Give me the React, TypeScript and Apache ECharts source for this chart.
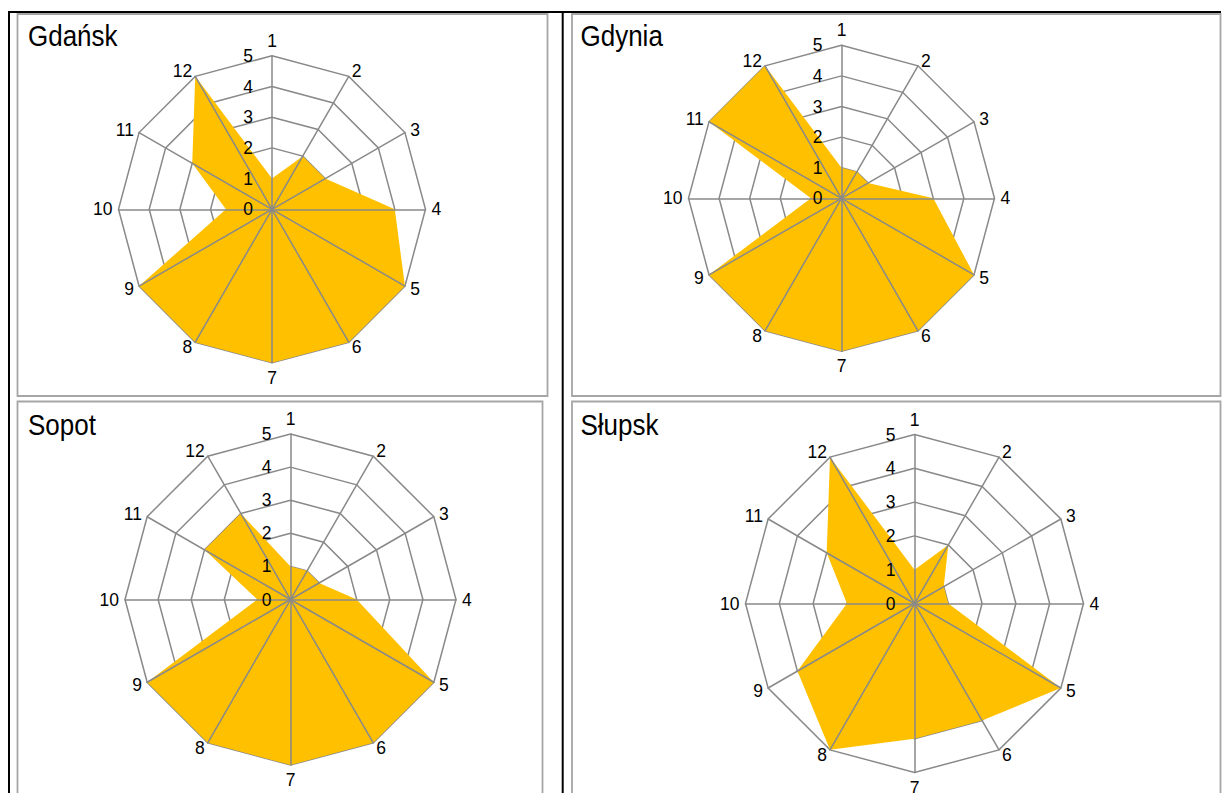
import React, { useEffect, useRef } from "react";
import * as echarts from "echarts";

// ---- data ----
const categories = ["1", "2", "3", "4", "5", "6", "7", "8", "9", "10", "11", "12"];
const valueMin = 0;
const valueMax = 5;
const valueStep = 1; // tick labels 0,1,2,3,4,5
const titles = ["Gdańsk", "Gdynia", "Sopot", "Słupsk"];
const gdansk = [1, 2, 2, 4, 5, 5, 5, 5, 5, 1.5, 3, 5];
const gdynia = [1, 1, 1, 3, 5, 5, 5, 5, 5, 1, 5, 5];
const sopot = [1, 1, 1, 2, 5, 5, 5, 5, 5, 1, 3, 3];
const slupsk = [1, 2, 1, 1, 5, 4, 4, 5, 4, 2, 3, 5];
const seriesValues = [gdansk, gdynia, sopot, slupsk];

// ---- layout / style ----
const FONT = "'Liberation Sans', Arial, sans-serif";
const GRID = "#898989";
const FILL = "#FFC000";
const BOX = "#a6a6a6";

const panels = [
  { center: [272, 209.3], radius: 153.5, tx: 28, ty: 36 },
  { center: [841.5, 198.3], radius: 153, tx: 580.5, ty: 36 },
  { center: [290.5, 599.5], radius: 165.5, tx: 28, ty: 424.5 },
  { center: [914.5, 603.5], radius: 169, tx: 580.5, ty: 425 },
];

// ECharts places radar indicators counter-clockwise; reorder so that 1..12 run clockwise
const order = [0, 11, 10, 9, 8, 7, 6, 5, 4, 3, 2, 1];

function buildOption() {
  const radar: any[] = [];
  const series: any[] = [];
  panels.forEach((p, i) => {
    const base = {
      center: p.center,
      radius: p.radius,
      startAngle: 90,
      shape: "polygon",
      splitNumber: (valueMax - valueMin) / valueStep,
    };
    radar.push({
      ...base,
      z: 1,
      indicator: order.map((k) => ({ name: categories[k], min: valueMin, max: valueMax })),
      axisName: { color: "#000", fontSize: 17.5, fontFamily: FONT },
      nameGap: 6,
      splitLine: { lineStyle: { color: GRID, width: 1.5 } },
      splitArea: { show: false },
      axisLine: { show: false },
      axisTick: { show: false },
      axisLabel: { show: false },
    });
    radar.push({
      ...base,
      z: 3,
      indicator: order.map((k, j) => ({
        name: categories[k],
        min: valueMin,
        max: valueMax,
        ...(j === 0 ? { axisLabel: { show: true } } : {}),
      })),
      axisName: { show: false },
      splitLine: { show: false },
      splitArea: { show: false },
      axisLine: { show: true, lineStyle: { color: GRID, width: 1.5 } },
      axisTick: { show: false },
      axisLabel: { show: false, margin: 19, color: "#000", fontSize: 17.5, fontFamily: FONT },
    });
    series.push({
      type: "radar",
      radarIndex: i * 2,
      z: 2,
      silent: true,
      symbol: "none",
      lineStyle: { width: 0, opacity: 0 },
      areaStyle: { color: FILL, opacity: 1 },
      data: [{ name: titles[i], value: order.map((k) => seriesValues[i][k]) }],
    });
  });

  const graphic: any[] = [
    // black outer lines
    { type: "line", shape: { x1: 9, y1: 12, x2: 9, y2: 800 }, style: { stroke: "#000", lineWidth: 2 } },
    { type: "line", shape: { x1: 8, y1: 12, x2: 1221, y2: 12 }, style: { stroke: "#000", lineWidth: 2 } },
    { type: "line", shape: { x1: 562.7, y1: 12, x2: 562.7, y2: 800 }, style: { stroke: "#000", lineWidth: 2 } },
    // gray panel boxes
    { type: "rect", shape: { x: 17.5, y: 14, width: 530, height: 382 }, style: { fill: "none", stroke: BOX, lineWidth: 1.8 } },
    { type: "rect", shape: { x: 572, y: 14, width: 648.5, height: 382 }, style: { fill: "none", stroke: BOX, lineWidth: 1.8 } },
    { type: "rect", shape: { x: 17.5, y: 401.5, width: 525, height: 500 }, style: { fill: "none", stroke: BOX, lineWidth: 1.8 } },
    { type: "rect", shape: { x: 572, y: 401.5, width: 648.5, height: 500 }, style: { fill: "none", stroke: BOX, lineWidth: 1.8 } },
  ];
  panels.forEach((p, i) => {
    graphic.push({
      type: "text",
      x: p.tx,
      y: p.ty,
      scaleY: 1.15,
      style: {
        text: titles[i],
        fill: "#000",
        fontSize: 26,
        fontFamily: FONT,
        align: "left",
        verticalAlign: "middle",
      },
    });
  });

  return {
    animation: false,
    backgroundColor: "#fff",
    radar,
    series,
    graphic,
  };
}

export default function App() {
  const ref = useRef<HTMLDivElement>(null);
  useEffect(() => {
    if (!ref.current) return;
    const chart = echarts.init(ref.current, undefined, { renderer: "svg" });
    chart.setOption(buildOption() as any);
    return () => chart.dispose();
  }, []);
  return (
    <div
      ref={ref}
      style={{ position: "absolute", left: 0, top: 0, width: 1231, height: 793 }}
    />
  );
}
